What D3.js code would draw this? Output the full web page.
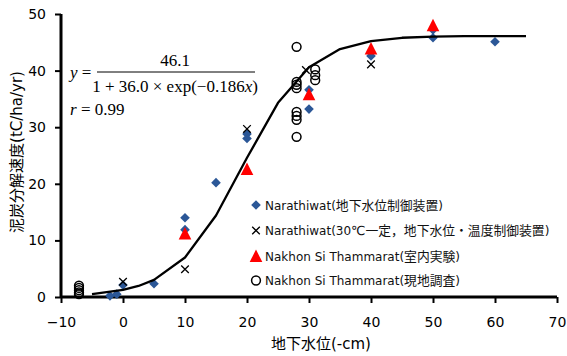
<!DOCTYPE html>
<html><head><meta charset="utf-8">
<script src="https://cdn.jsdelivr.net/npm/d3@7"></script>
<style>body{margin:0;background:#fff}svg{display:block}</style>
</head><body>
<svg id="c" width="567" height="356"></svg>
<script>
// ---- data ----
const xTicks = [-10, 0, 10, 20, 30, 40, 50, 60, 70];
const yTicks = [0, 10, 20, 30, 40, 50];
const narathiwatDevice = [[-2.1,0.2],[-1.0,0.5],[0,2.1],[5,2.35],[10,14.0],[10,11.9],[15,20.2],[20,28.8],[20,28.0],[30,36.6],[30,33.2],[40,42.6],[50,47.2],[50,45.8],[60,45.1]];
const narathiwat30C = [[0,2.7],[10,4.9],[20,29.7],[29.5,40.1],[40,41.1]];
const nakhonLab = [[10,11.2],[20,22.6],[30,35.8],[40,43.9],[50,48.0]];
const nakhonField = [[-7.1,2.0],[-7.1,1.6],[-7.1,1.2],[-7.1,0.8],[-7.1,0.5],[28,44.2],[28,38.0],[28,37.5],[28,36.9],[28,32.7],[28,32.0],[28,31.3],[28,28.3],[31,40.2],[31,39.2],[31,38.3]];
const fitCurve = [[-5,0.50],[0,1.25],[2.5,1.95],[5,3.03],[10,6.98],[15,14.4],[20,24.6],[25,34.3],[30,40.6],[35,43.8],[40,45.2],[45,45.8],[50,46.0],[55,46.1],[60,46.1],[65,46.1]];
const legendLabels = ["Narathiwat(地下水位制御装置)","Narathiwat(30℃一定，地下水位・温度制御装置)","Nakhon Si Thammarat(室内実験)","Nakhon Si Thammarat(現地調査)"];
const xTitle = "地下水位(-cm)";
const yTitle = "泥炭分解速度(tC/ha/yr)";

const svg = d3.select("#c");
const x = d3.scaleLinear().domain([-10,70]).range([61,557]);
const y = d3.scaleLinear().domain([0,50]).range([297,14]);
const tickFont = "'DejaVu Sans', 'Noto Sans CJK JP', sans-serif";
const blue = "#2b5797";

// axes
const gx = svg.append("g").attr("transform","translate(0,297)")
  .call(d3.axisBottom(x).tickValues(xTicks).tickSize(6).tickPadding(14));
const gy = svg.append("g").attr("transform","translate(61,0)")
  .call(d3.axisLeft(y).tickValues(yTicks).tickSize(6).tickPadding(9));
[gx, gy].forEach(g => {
  g.select(".domain").attr("stroke","#000").attr("stroke-width",3);
  g.selectAll(".tick line").attr("stroke","#000").attr("stroke-width",2);
  g.selectAll(".tick text").attr("font-family",tickFont).attr("font-size",14).attr("fill","#000");
});
gx.select(".domain").attr("d","M61,0H557");
gy.select(".domain").attr("d","M0,14V297");

// markers
const plot = svg.append("g");
function drawDiamond(g, px, py){ g.append("path").attr("d","M0,-4.8L4.8,0L0,4.8L-4.8,0Z").attr("transform",`translate(${px},${py})`).attr("fill",blue); }
function drawX(g, px, py){ g.append("path").attr("d","M-3.8,-3.8L3.8,3.8M-3.8,3.8L3.8,-3.8").attr("transform",`translate(${px},${py})`).attr("stroke","#000").attr("stroke-width",1.3).attr("fill","none"); }
function drawTri(g, px, py){ g.append("path").attr("d","M0,-6.5L6.3,6L-6.3,6Z").attr("transform",`translate(${px},${py})`).attr("fill","#ff0000"); }
function drawCircle(g, px, py){ g.append("circle").attr("cx",px).attr("cy",py).attr("r",4.4).attr("fill","none").attr("stroke","#000").attr("stroke-width",1.5); }

narathiwatDevice.forEach(d => drawDiamond(plot, x(d[0]), y(d[1])));
narathiwat30C.forEach(d => drawX(plot, x(d[0]), y(d[1])));
nakhonLab.forEach(d => drawTri(plot, x(d[0]), y(d[1])));
nakhonField.forEach(d => drawCircle(plot, x(d[0]), y(d[1])));

// fit curve
svg.append("path").datum(fitCurve)
  .attr("d", d3.line().x(d=>x(d[0])).y(d=>y(d[1])))
  .attr("fill","none").attr("stroke","#000").attr("stroke-width",2.3).attr("stroke-linejoin","round");

// legend
const lg = svg.append("g");
const rows = [205, 230.5, 256, 280.5];
const drawers = [drawDiamond, drawX, drawTri, drawCircle];
const cjkRe = /[\u3000-\u9fff\uff00-\uffef\u30fb\u2103]+|[^\u3000-\u9fff\uff00-\uffef\u30fb\u2103]+/g;
rows.forEach((ry,i) => {
  drawers[i](lg, 256, ry);
  const t = lg.append("text").attr("x",265).attr("y",ry+4.5)
    .attr("font-family",tickFont).attr("font-size",12).attr("fill","#111");
  legendLabels[i].match(cjkRe).forEach(run => {
    const isCjk = /[\u3000-\u9fff\uff00-\uffef\u30fb\u2103]/.test(run);
    t.append("tspan").attr("font-size", isCjk ? 12.8 : 12).text(run);
  });
});

// axis titles
svg.append("text").attr("x",321).attr("y",349).attr("text-anchor","middle")
  .attr("font-family",tickFont).attr("font-size",15).attr("fill","#000").text(xTitle);
svg.append("text").attr("transform","translate(22,152) rotate(-90)").attr("text-anchor","middle")
  .attr("font-family",tickFont).attr("font-size",15).attr("fill","#000").text(yTitle);

// formula
const serif = "'Liberation Serif', 'Times New Roman', serif";
const f = svg.append("g").attr("font-family",serif).attr("font-size",17).attr("fill","#000");
const t1 = f.append("text").attr("x",70).attr("y",78);
t1.append("tspan").attr("font-style","italic").text("y");
t1.append("tspan").text(" =");
f.append("text").attr("x",175).attr("y",66).attr("text-anchor","middle").text("46.1");
f.append("line").attr("x1",97).attr("x2",255).attr("y1",72).attr("y2",72).attr("stroke","#000").attr("stroke-width",1);
const t2 = f.append("text").attr("x",175).attr("y",92).attr("text-anchor","middle");
t2.append("tspan").text("1 + 36.0 × exp(−0.186");
t2.append("tspan").attr("font-style","italic").text("x");
t2.append("tspan").text(")");
const t3 = f.append("text").attr("x",70).attr("y",115);
t3.append("tspan").attr("font-style","italic").text("r");
t3.append("tspan").text(" = 0.99");
</script>
</body></html>
